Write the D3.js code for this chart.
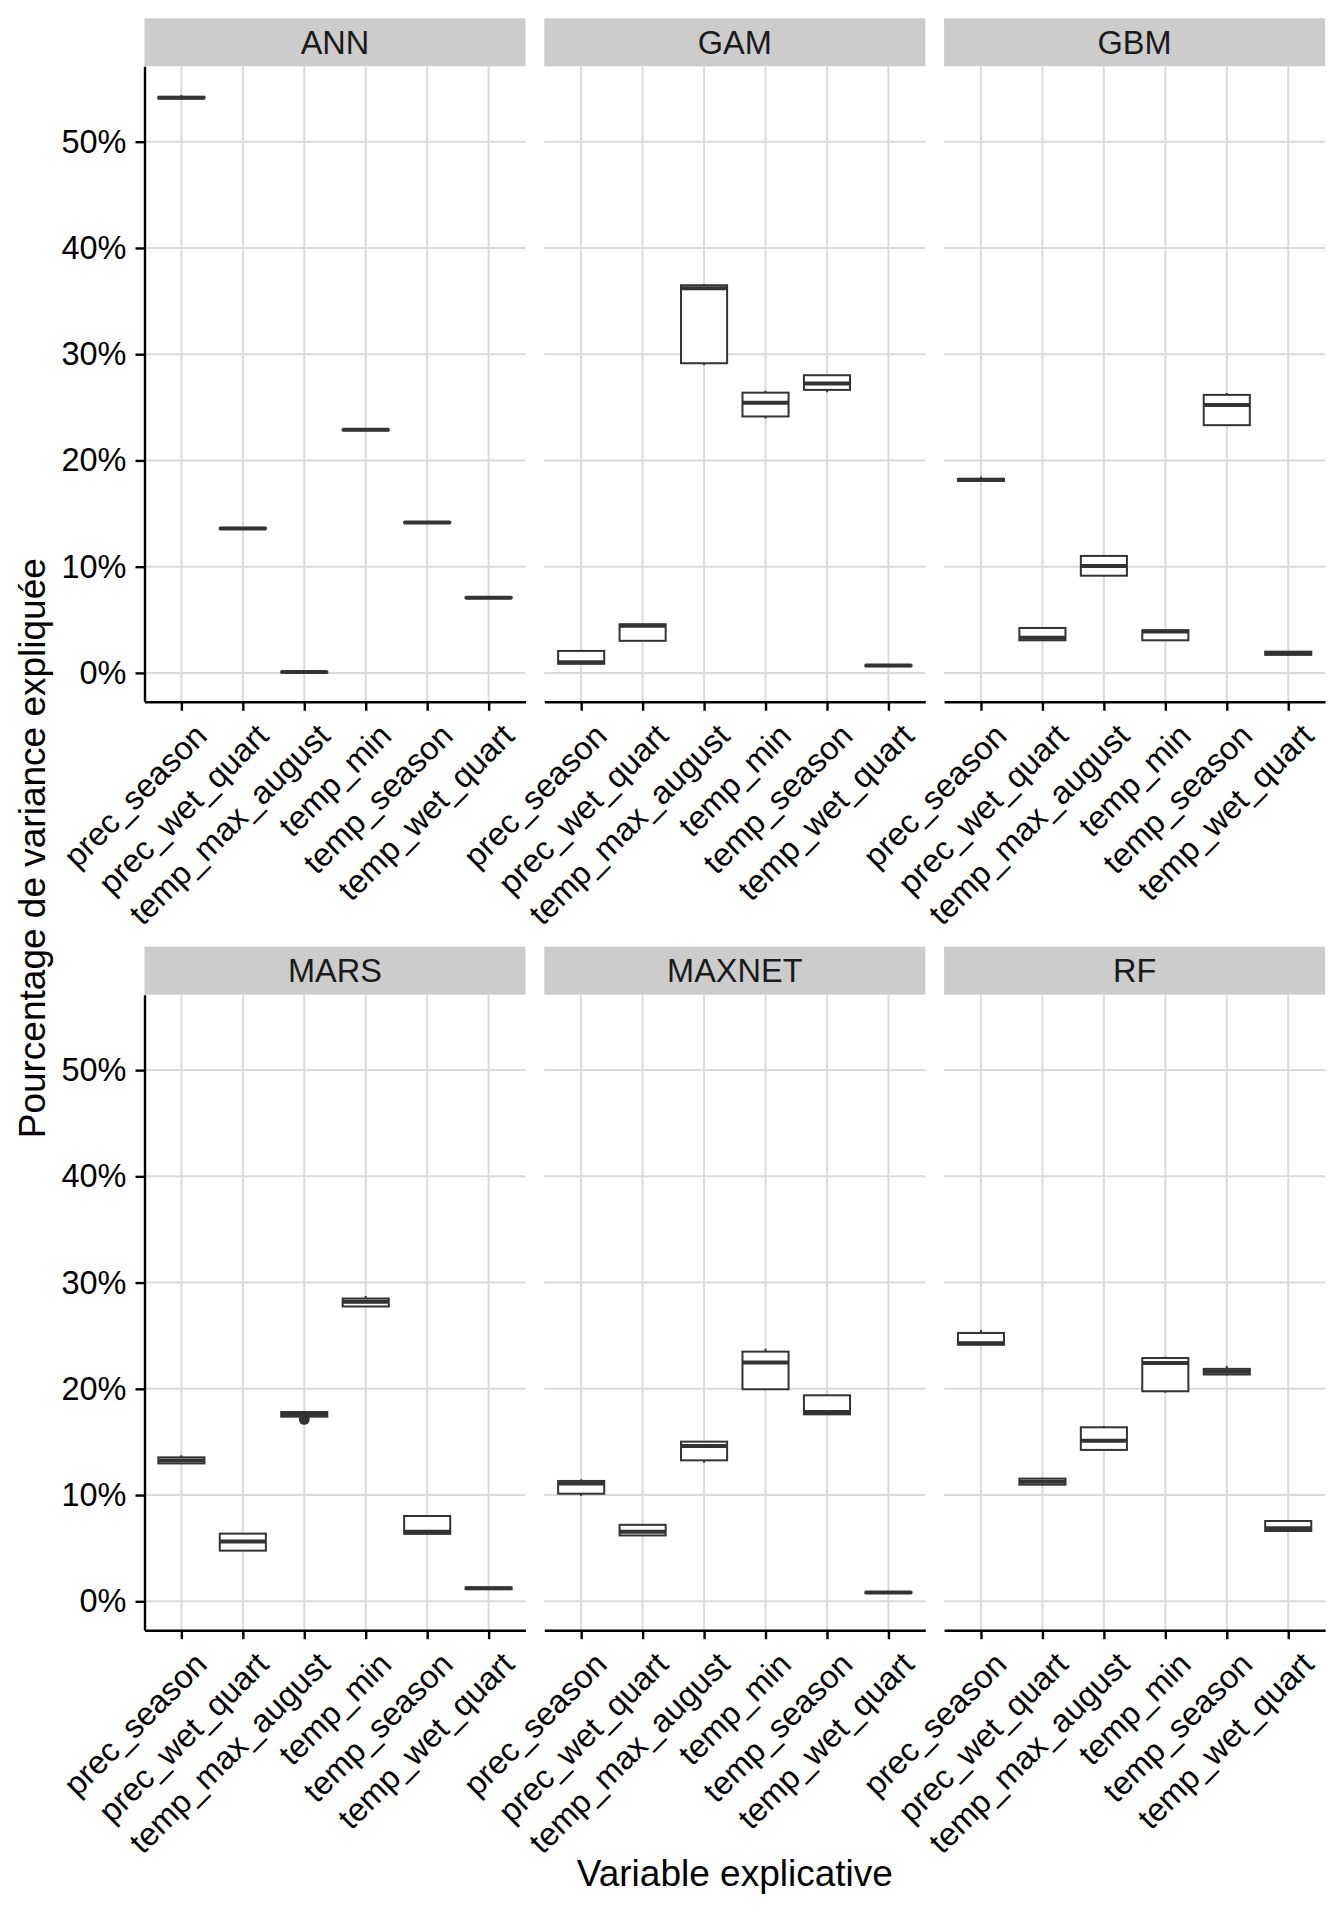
<!DOCTYPE html>
<html>
<head>
<meta charset="utf-8">
<script src="https://cdn.jsdelivr.net/npm/d3@7"></script>
<style>
    body { margin: 0; background: #ffffff; }
    svg { display: block; font-family: "Liberation Sans", Arial, Helvetica, sans-serif; }
</style>
</head>
<body>
<div id="chart"></div>
<script>
// Données : [min, q1, médiane, q3, max] en %
const models = ["ANN", "GAM", "GBM", "MARS", "MAXNET", "RF"];
const variables = ["prec_season", "prec_wet_quart", "temp_max_august", "temp_min", "temp_season", "temp_wet_quart"];
const yTicks = [0, 10, 20, 30, 40, 50];

const statsANN = [
    [54.0, 54.08, 54.15, 54.22, 54.38],
    [13.5, 13.55, 13.6, 13.65, 13.7],
    [0.0, 0.04, 0.08, 0.12, 0.16],
    [22.8, 22.84, 22.88, 22.92, 22.96],
    [14.1, 14.13, 14.16, 14.2, 14.24],
    [7.0, 7.04, 7.08, 7.12, 7.16]
];
const statsGAM = [
    [0.86, 0.86, 1.0, 2.07, 2.07],
    [3.02, 3.02, 4.45, 4.58, 4.6],
    [28.97, 29.15, 36.2, 36.49, 36.6],
    [23.96, 24.14, 25.43, 26.38, 26.55],
    [26.42, 26.64, 27.25, 28.02, 28.02],
    [0.6, 0.64, 0.69, 0.73, 0.76]
];
const statsGBM = [
    [18.0, 18.08, 18.18, 18.26, 18.48],
    [3.07, 3.07, 3.3, 4.23, 4.23],
    [9.15, 9.15, 10.06, 11.01, 11.01],
    [3.07, 3.07, 3.89, 4.02, 4.02],
    [23.32, 23.32, 25.22, 26.17, 26.34],
    [1.62, 1.7, 1.86, 2.0, 2.05]
];
const statsMARS = [
    [12.95, 12.98, 13.25, 13.55, 13.74],
    [4.77, 4.77, 5.62, 6.37, 6.37],
    [17.35, 17.38, 17.6, 17.82, 17.85],
    [27.71, 27.75, 28.2, 28.5, 28.74],
    [6.31, 6.35, 6.55, 8.03, 8.03],
    [1.1, 1.15, 1.22, 1.3, 1.35]
];
const statsMAXNET = [
    [9.92, 10.13, 11.08, 11.33, 11.48],
    [6.15, 6.2, 6.55, 7.2, 7.25],
    [13.05, 13.27, 14.62, 15.03, 15.09],
    [19.96, 19.96, 22.47, 23.5, 23.78],
    [17.6, 17.6, 17.82, 19.39, 19.49],
    [0.74, 0.78, 0.82, 0.86, 0.9]
];
const statsRF = [
    [24.1, 24.15, 24.3, 25.26, 25.54],
    [10.92, 10.98, 11.26, 11.55, 11.64],
    [14.25, 14.25, 15.12, 16.38, 16.5],
    [19.64, 19.77, 22.43, 22.9, 23.03],
    [21.27, 21.35, 21.62, 21.88, 22.15],
    [6.62, 6.62, 6.88, 7.56, 7.66]
];
// valeurs isolées (model, variable, valeur)
const outlierModels = ["MARS"];
const outlierVars = ["temp_max_august"];
const outlierValues = [17.13];

const statsByModel = [statsANN, statsGAM, statsGBM, statsMARS, statsMAXNET, statsRF];

// mise en page
const W = 1344, H = 1920;
const panelLeft = 144.5, panelW = 381, panelGap = 18.8;
const stripTops = [18.3, 946.7], stripH = 48, panelH = 635.5;
const tickFont = 32.5, titleFont = 37;
const dark = "#333333";

const svg = d3.select("#chart").append("svg")
    .attr("width", W)
    .attr("height", H);

// échelles communes
const x = d3.scalePoint()
    .domain(variables)
    .range([0, panelW])
    .padding(0.6);

const allVals = statsByModel.flat(2).concat(outlierValues);
const yMin = d3.min(allVals), yMax = d3.max(allVals);
const pad = (yMax - yMin) * 0.05;
const y = d3.scaleLinear()
    .domain([yMin - pad, yMax + pad])
    .range([panelH, 0]);

const boxW = x.step() * 0.75;

models.forEach((model, i) => {
    const col = i % 3, row = Math.floor(i / 3);
    const left = panelLeft + col * (panelW + panelGap);
    const top = stripTops[row] + stripH;

    // bandeau
    const strip = svg.append("g").attr("transform", `translate(${left},${stripTops[row]})`);
    strip.append("rect")
        .attr("width", panelW)
        .attr("height", stripH)
        .attr("fill", "#cccccc");
    strip.append("text")
        .attr("x", panelW / 2)
        .attr("y", stripH / 2)
        .attr("dy", "0.36em")
        .attr("text-anchor", "middle")
        .attr("font-size", tickFont)
        .attr("fill", "#1a1a1a")
        .text(model);

    const g = svg.append("g").attr("transform", `translate(${left},${top})`);

    // grille
    g.selectAll(".gy").data(yTicks).enter().append("line")
        .attr("x1", 0).attr("x2", panelW)
        .attr("y1", d => y(d)).attr("y2", d => y(d))
        .attr("stroke", "#dadada").attr("stroke-width", 2);
    g.selectAll(".gx").data(variables).enter().append("line")
        .attr("x1", d => x(d)).attr("x2", d => x(d))
        .attr("y1", 0).attr("y2", panelH)
        .attr("stroke", "#dadada").attr("stroke-width", 2);

    // boîtes
    const rows = statsByModel[i].map((s, j) => ({ v: variables[j], s: s }));
    const box = g.selectAll(".box").data(rows).enter().append("g");

    box.append("line")
        .attr("x1", d => x(d.v)).attr("x2", d => x(d.v))
        .attr("y1", d => y(d.s[4])).attr("y2", d => y(d.s[3]))
        .attr("stroke", dark).attr("stroke-width", 2);
    box.append("line")
        .attr("x1", d => x(d.v)).attr("x2", d => x(d.v))
        .attr("y1", d => y(d.s[1])).attr("y2", d => y(d.s[0]))
        .attr("stroke", dark).attr("stroke-width", 2);
    box.append("rect")
        .attr("x", d => x(d.v) - boxW / 2)
        .attr("width", boxW)
        .attr("y", d => y(d.s[3]))
        .attr("height", d => Math.max(0, y(d.s[1]) - y(d.s[3])))
        .attr("fill", "#ffffff")
        .attr("stroke", dark).attr("stroke-width", 2);
    box.append("line")
        .attr("x1", d => x(d.v) - boxW / 2).attr("x2", d => x(d.v) + boxW / 2)
        .attr("y1", d => y(d.s[2])).attr("y2", d => y(d.s[2]))
        .attr("stroke", dark).attr("stroke-width", 4);

    // points isolés
    const pts = outlierValues.map((v, k) => ({ m: outlierModels[k], v: outlierVars[k], val: v }))
        .filter(p => p.m === model);
    g.selectAll(".out").data(pts).enter().append("circle")
        .attr("cx", d => x(d.v))
        .attr("cy", d => y(d.val))
        .attr("r", 5.5)
        .attr("fill", dark);

    // axe x
    const xAxis = g.append("g")
        .attr("transform", `translate(0,${panelH})`)
        .call(d3.axisBottom(x).tickSize(9).tickSizeOuter(0));
    xAxis.select(".domain").attr("stroke", "#000").attr("stroke-width", 2.4);
    xAxis.selectAll(".tick line").attr("stroke", "#000").attr("stroke-width", 2.4);
    xAxis.selectAll(".tick text")
        .attr("x", null).attr("y", null).attr("dy", null)
        .attr("transform", "translate(27,36) rotate(-45)")
        .attr("text-anchor", "end")
        .attr("font-size", tickFont)
        .attr("font-family", null)
        .attr("fill", "#000");

    // axe y (colonne de gauche seulement)
    if (col === 0) {
        const yAxis = g.append("g")
            .call(d3.axisLeft(y).tickValues(yTicks).tickFormat(d => d + "%")
                .tickSize(9).tickPadding(9).tickSizeOuter(0));
        yAxis.select(".domain").attr("stroke", "#000").attr("stroke-width", 2.4);
        yAxis.selectAll(".tick line").attr("stroke", "#000").attr("stroke-width", 2.4);
        yAxis.selectAll(".tick text")
            .attr("font-size", tickFont)
            .attr("font-family", null)
            .attr("fill", "#000");
    }
});

// titres des axes
const plotRight = panelLeft + 3 * panelW + 2 * panelGap;
svg.append("text")
    .attr("x", (panelLeft + plotRight) / 2)
    .attr("y", 1886)
    .attr("text-anchor", "middle")
    .attr("font-size", titleFont)
    .attr("fill", "#000")
    .text("Variable explicative");

const yMid = (stripTops[0] + stripH + stripTops[1] + stripH + panelH) / 2;
svg.append("text")
    .attr("transform", `translate(45,${yMid}) rotate(-90)`)
    .attr("text-anchor", "middle")
    .attr("font-size", titleFont)
    .attr("fill", "#000")
    .text("Pourcentage de variance expliquée");
</script>
</body>
</html>
